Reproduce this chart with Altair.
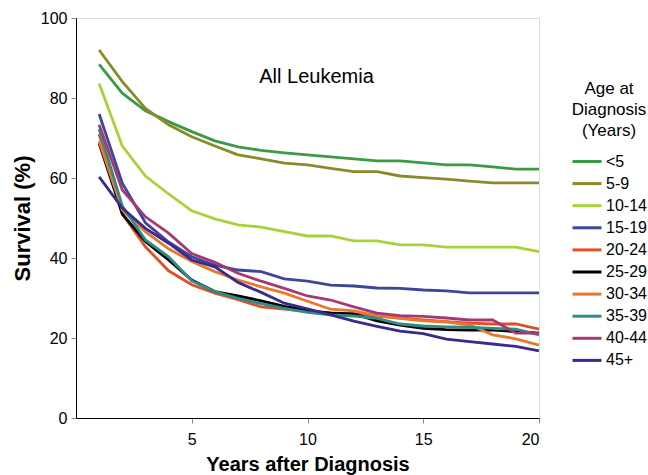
import altair as alt
import pandas as pd

# Years after diagnosis and the age groups shown
years = list(range(1, 21))
groups = ["<5", "5-9", "10-14", "15-19", "20-24", "25-29", "30-34", "35-39", "40-44", "45+"]
colors = ["#3a9a46", "#8a8a2c", "#a8d13c", "#3f449c", "#de5128",
          "#000000", "#e8782e", "#2e8d88", "#a33a74", "#3b2a8c"]

# Survival (%) per year, one list per age group
surv_lt5 = [88.4, 81.2, 76.8, 74.1, 71.6, 69.3, 67.8, 66.9, 66.3, 65.8,
            65.3, 64.8, 64.3, 64.3, 63.8, 63.3, 63.3, 62.8, 62.2, 62.2]
surv_5_9 = [92.0, 84.1, 77.4, 73.3, 70.3, 68.0, 65.8, 64.8, 63.7, 63.3,
            62.4, 61.6, 61.6, 60.5, 60.1, 59.7, 59.2, 58.8, 58.8, 58.8]
surv_10_14 = [83.6, 68.0, 60.5, 56.0, 51.8, 49.8, 48.3, 47.7, 46.6, 45.5,
              45.5, 44.3, 44.3, 43.3, 43.3, 42.7, 42.7, 42.7, 42.7, 41.6]
surv_15_19 = [76.0, 58.7, 48.8, 44.0, 40.3, 38.2, 37.0, 36.6, 34.8, 34.2,
              33.2, 33.0, 32.5, 32.4, 32.0, 31.8, 31.3, 31.3, 31.3, 31.3]
surv_20_24 = [71.0, 51.0, 42.8, 36.8, 33.3, 31.2, 29.6, 27.8, 27.2, 26.6,
              26.3, 26.0, 25.5, 25.0, 24.5, 24.1, 23.7, 23.5, 23.5, 22.2]
surv_25_29 = [68.7, 51.0, 44.1, 39.5, 34.5, 31.6, 30.5, 29.3, 27.9, 26.9,
              26.2, 26.0, 24.3, 23.2, 22.4, 22.1, 22.0, 22.0, 21.6, 21.2]
surv_30_34 = [69.2, 52.0, 46.6, 42.3, 39.1, 36.6, 34.5, 32.8, 31.2, 29.2,
              27.2, 26.8, 25.6, 24.9, 24.3, 24.0, 23.3, 20.8, 19.8, 18.2]
surv_35_39 = [72.2, 53.0, 44.5, 40.3, 34.3, 31.6, 29.9, 28.6, 27.4, 26.4,
              25.8, 25.5, 24.9, 23.5, 23.0, 22.8, 22.7, 22.4, 22.2, 20.8]
surv_40_44 = [73.3, 57.0, 50.3, 46.2, 41.1, 38.9, 36.2, 34.2, 32.4, 30.5,
              29.5, 27.8, 26.2, 25.6, 25.4, 25.0, 24.5, 24.5, 21.2, 21.2]
surv_45p = [60.3, 52.5, 47.4, 43.7, 39.5, 37.8, 33.9, 31.4, 28.7, 27.3,
            25.8, 24.2, 22.9, 21.7, 21.1, 19.7, 19.1, 18.5, 17.9, 16.8]

series = [surv_lt5, surv_5_9, surv_10_14, surv_15_19, surv_20_24,
          surv_25_29, surv_30_34, surv_35_39, surv_40_44, surv_45p]

rows = []
for gi, (g, vals) in enumerate(zip(groups, series)):
    for yr, v in zip(years, vals):
        rows.append({"year": yr, "group": g, "gidx": gi, "survival": v})
df = pd.DataFrame(rows)

FONT = "Liberation Sans"

# Legend swatch: a short horizontal stroke, longer than the symbol box
SWATCH = "M-1,0H1.9"

chart = alt.Chart(df).mark_line(strokeWidth=2.8).encode(
    x=alt.X("year:Q",
            scale=alt.Scale(domain=[0, 20], nice=False, zero=True),
            axis=alt.Axis(values=[5, 10, 15, 20], title="Years after Diagnosis",
                          grid=False, tickSize=5, tickColor="#888888",
                          domainColor="#000000", labelFontSize=16,
                          labelColor="#000000", labelPadding=8, labelFont=FONT,
                          titleFont=FONT, titleFontSize=20, titleFontWeight="bold",
                          titleColor="#000000", titlePadding=7)),
    y=alt.Y("survival:Q",
            scale=alt.Scale(domain=[0, 100], nice=False),
            axis=alt.Axis(values=[0, 20, 40, 60, 80, 100], title="Survival (%)",
                          grid=False, tickSize=5, tickColor="#888888",
                          domainColor="#000000", labelFontSize=16,
                          labelColor="#000000", labelPadding=4, labelFont=FONT,
                          titleFont=FONT, titleFontSize=22, titleFontWeight="bold",
                          titleColor="#000000", titlePadding=6)),
    color=alt.Color("group:N",
                    scale=alt.Scale(domain=groups, range=colors),
                    sort=groups,
                    legend=alt.Legend(title=["Age at", "Diagnosis", "(Years)"],
                                      orient="none", legendX=495, legendY=63,
                                      symbolType=SWATCH, symbolSize=400,
                                      symbolStrokeWidth=3, labelFontSize=16,
                                      labelFont=FONT, labelColor="#000000",
                                      labelOffset=12, rowPadding=2.1,
                                      titleFont=FONT, titleFontSize=17,
                                      titleFontWeight="normal", titleColor="#000000",
                                      titleAlign="center", titleAnchor="middle",
                                      titleLineHeight=21, titlePadding=10)),
    order=alt.Order("gidx:Q"),
    detail="gidx:Q",
).properties(
    width=463,
    height=400,
    title=alt.TitleParams("All Leukemia", font=FONT, fontSize=20,
                          fontWeight="normal", color="#000000",
                          anchor="middle", frame="group", baseline="alphabetic",
                          offset=0, dy=93, dx=9),
    autosize=alt.AutoSizeParams(type="none"),
    padding={"left": 76, "top": 18, "right": 109, "bottom": 57},
).configure_view(stroke=None).configure(background="#ffffff")

chart.save("out.html", embed_options={"renderer": "svg", "actions": False})
